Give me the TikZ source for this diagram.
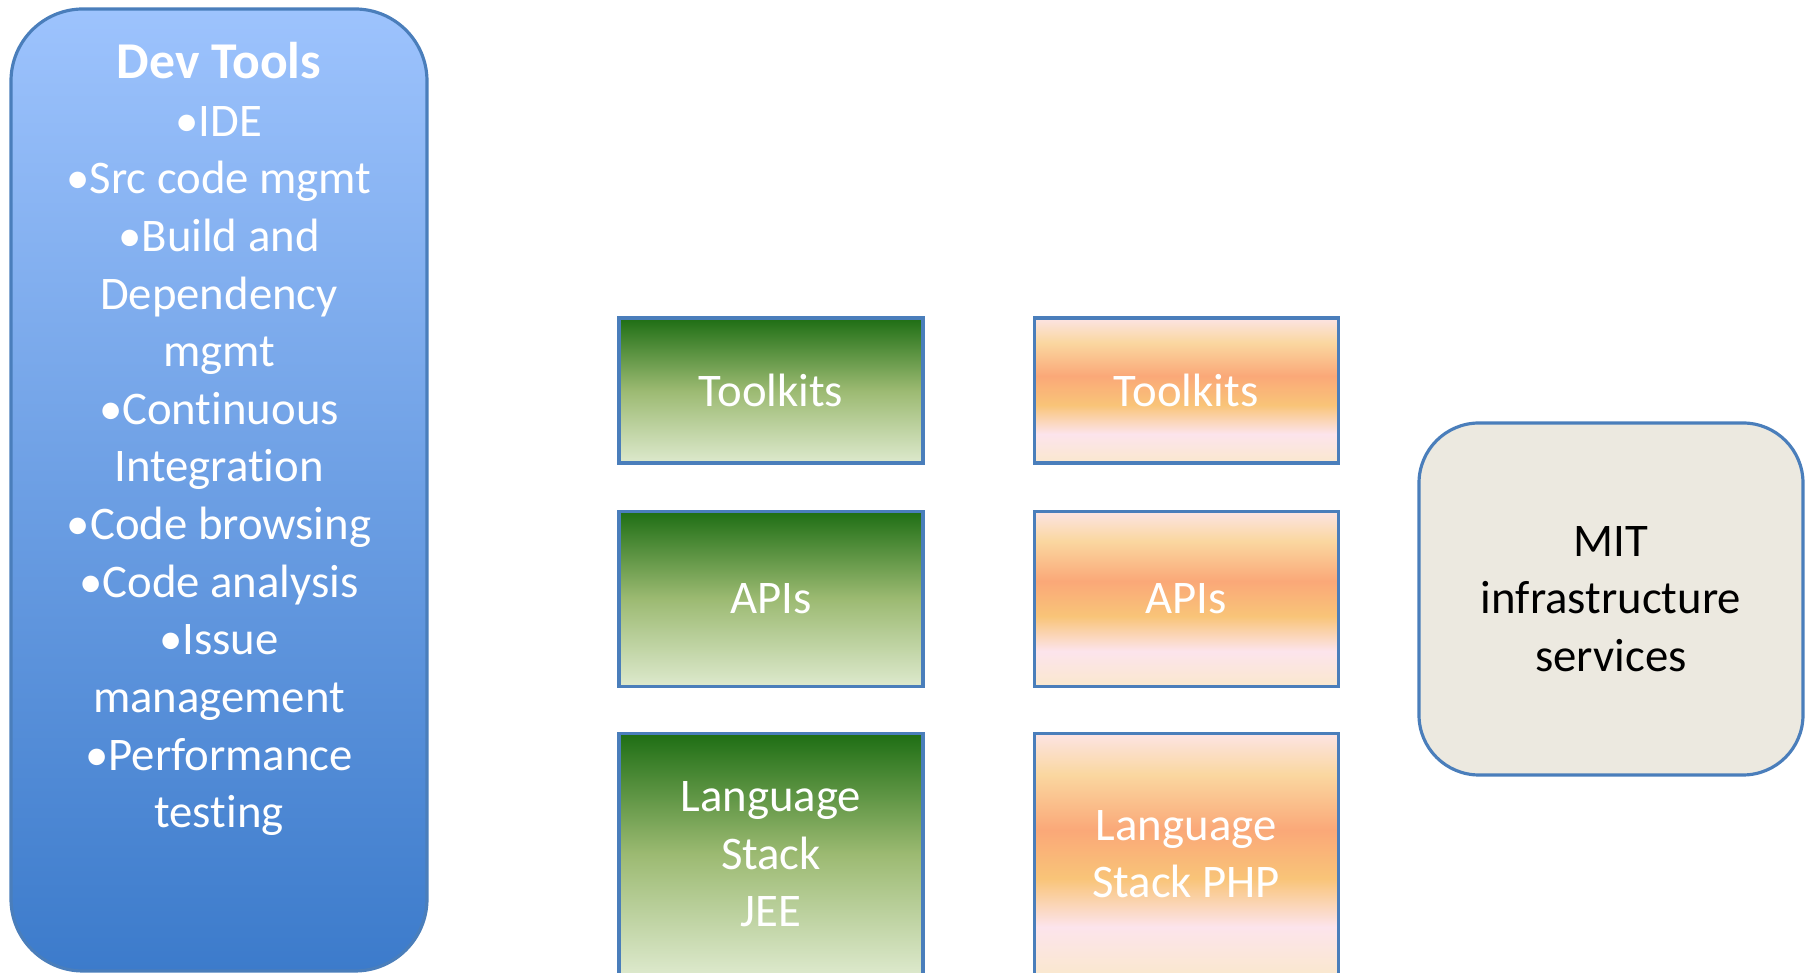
\documentclass[tikz,border=0pt]{standalone}
\usepackage{fontspec}
\setmainfont{Carlito}[Ligatures=NoCommon]
\usepackage{tikz}
\usetikzlibrary{positioning}

\definecolor{boxedge}{HTML}{4A7EBB}
\definecolor{devtop}{HTML}{9DC3FD}
\definecolor{devbot}{HTML}{3C7BCB}
\definecolor{jeetop}{HTML}{1E6E14}
\definecolor{jeemid}{HTML}{9CBA72}
\definecolor{jeebot}{HTML}{DDE9CD}
\definecolor{phptop}{HTML}{FCE4E4}
\definecolor{phppeach}{HTML}{FAD7A0}
\definecolor{phpsalmon}{HTML}{FAA878}
\definecolor{phporange}{HTML}{F9C478}
\definecolor{phppink}{HTML}{FCE4EC}
\definecolor{phpbot}{HTML}{FAE8CE}
\definecolor{mitfill}{HTML}{ECE9E0}

% banded shading for the php column (bottom to top)
\pgfdeclareverticalshading{phpsunset}{100bp}{color(0bp)=(phpbot); color(25bp)=(phpbot);
  color(35bp)=(phppink); color(45bp)=(phporange); color(55bp)=(phpsalmon);
  color(66.5bp)=(phppeach); color(75bp)=(phptop); color(100bp)=(phptop)}

\begin{document}
\begin{tikzpicture}[node distance=0.45cm and 1.08cm,
  every node/.style={font=\fontsize{13.3}{16.4}\selectfont},
  layer/.style={draw=boxedge, line width=0.9pt, minimum width=3.04cm, text=white, align=center, inner sep=0pt},
  jee/.style={layer, top color=jeetop, bottom color=jeebot, middle color=jeemid},
  php/.style={layer, shading=phpsunset}]
\useasboundingbox (0,0) rectangle (18.09,9.73);

% tools column
\node[draw=boxedge, line width=0.9pt, rounded corners=0.72cm, top color=devtop, bottom color=devbot,
  minimum width=4.16cm, minimum height=9.62cm] (devtools) at (2.19,4.83) {};
\node[font=\fontsize{14.7}{17}\selectfont\bfseries, text=white] (devtitle) at (2.19,9.12) {Dev Tools};
\node[text=white, align=center] (devlist) at (2.19,5.02) {•IDE\\•Src code mgmt\\•Build and\\Dependency\\mgmt\\•Continuous\\Integration\\•Code browsing\\•Code analysis\\•Issue\\management\\•Performance\\testing};

% jee stack
\node[jee, minimum height=1.45cm] (kitjee) at (7.71,5.825) {Toolkits};
\node[jee, minimum height=1.75cm, below=of kitjee] (apijee) {APIs};
\node[jee, minimum height=2.42cm, below=0.44cm of apijee] (langjee) {Language\\Stack\\JEE};

% php stack
\node[php, minimum height=1.45cm, right=of kitjee] (kitphp) {Toolkits};
\node[php, minimum height=1.75cm, right=of apijee] (apiphp) {APIs};
\node[php, minimum height=2.42cm, right=of langjee] (langphp) {Language\\Stack PHP};

\node[draw=boxedge, line width=0.9pt, rounded corners=0.6cm, fill=mitfill, minimum width=3.84cm,
  minimum height=3.52cm, align=center] (mit) at (16.11,3.74) {MIT\\infrastructure\\services};
\end{tikzpicture}
\end{document}
